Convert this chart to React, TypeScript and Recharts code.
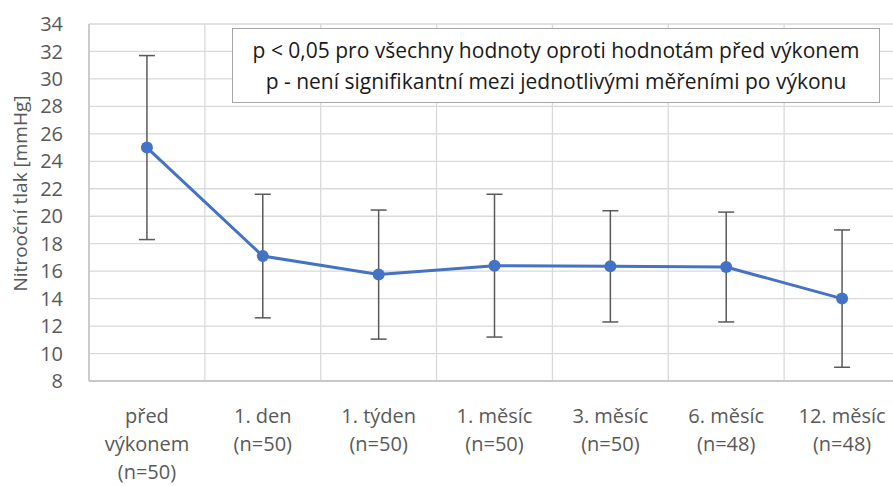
import React from 'react';
import { CartesianGrid, ErrorBar, Line, LineChart, XAxis, YAxis } from 'recharts';

const categories = ['před výkonem', '1. den', '1. týden', '1. měsíc', '3. měsíc', '6. měsíc', '12. měsíc'];
const sampleSizes = [50, 50, 50, 50, 50, 48, 48];
const means = [25.0, 17.1, 15.75, 16.4, 16.35, 16.3, 14.0];
const sds = [6.7, 4.5, 4.7, 5.2, 4.05, 4.0, 5.0];
const yTicks = [8, 10, 12, 14, 16, 18, 20, 22, 24, 26, 28, 30, 32, 34];
const noteLines = [
  'p < 0,05 pro všechny hodnoty oproti hodnotám před výkonem',
  'p - není signifikantní mezi jednotlivými měřeními po výkonu',
];

const data = categories.map((c, i) => ({ name: c, n: sampleSizes[i], mean: means[i], sd: sds[i] }));

const FONT = '"Open Sans", sans-serif';
const GREY = '#595959';

function CategoryTick(props: any) {
  const { x, y, payload } = props;
  const item = data.find((d) => d.name === payload.value)!;
  const lines = item.name === 'před výkonem' ? ['před', 'výkonem', `(n=${item.n})`] : [item.name, `(n=${item.n})`];
  return (
    <text x={x} y={y + 40} textAnchor="middle" fill={GREY} fontSize={20} fontFamily={FONT}>
      {lines.map((l, i) => (
        <tspan key={i} x={x} dy={i === 0 ? 0 : 28}>
          {l}
        </tspan>
      ))}
    </text>
  );
}

function YTitle(props: any) {
  const { viewBox } = props;
  const cy = viewBox.y + viewBox.height / 2 - 9;
  return (
    <text
      x={20}
      y={cy}
      transform={`rotate(-90, 20, ${cy})`}
      textAnchor="middle"
      dominantBaseline="central"
      fill={GREY}
      fontSize={19}
      fontFamily={FONT}
    >
      Nitrooční tlak [mmHg]
    </text>
  );
}

export default function App() {
  return (
    <div style={{ position: 'absolute', left: 0, top: 0, width: 893, height: 486, overflow: 'hidden', background: '#fff' }}>
      <LineChart width={905} height={486} data={data} margin={{ top: 24, right: 5, bottom: 0, left: 0 }}>
        <CartesianGrid
          stroke="#d9d9d9"
          strokeWidth={1.3}
          verticalCoordinatesGenerator={({ offset }: any) =>
            Array.from({ length: categories.length + 1 }, (_, i) => offset.left + (i * offset.width) / categories.length)
          }
        />
        <XAxis
          dataKey="name"
          scale="band"
          interval={0}
          height={105}
          axisLine={{ stroke: '#bfbfbf', strokeWidth: 1.3 }}
          tickLine={false}
          tickSize={0}
          tick={<CategoryTick />}
        />
        <YAxis
          domain={[8, 34]}
          ticks={yTicks}
          interval={0}
          width={89}
          axisLine={{ stroke: '#bfbfbf', strokeWidth: 1.3 }}
          tickLine={false}
          tickMargin={20}
          tick={{ fill: GREY, fontSize: 20, fontFamily: FONT }}
          label={<YTitle />}
        />
        <Line
          type="linear"
          dataKey="mean"
          stroke="#4472C4"
          strokeWidth={3}
          dot={{ r: 6, fill: '#4472C4', stroke: 'none' }}
          activeDot={false}
          isAnimationActive={false}
        >
          <ErrorBar dataKey="sd" stroke={GREY} strokeWidth={1.5} width={8} isAnimationActive={false} />
        </Line>
      </LineChart>
      <div
        style={{
          position: 'absolute',
          left: 232,
          top: 28,
          width: 648,
          height: 75,
          border: '1px solid #a6a6a6',
          background: '#fff',
          boxSizing: 'border-box',
          display: 'flex',
          flexDirection: 'column',
          justifyContent: 'center',
          alignItems: 'center',
          fontFamily: FONT,
          fontSize: 21,
          lineHeight: '31px',
          color: '#1a1a1a',
          whiteSpace: 'nowrap',
        }}
      >
        {noteLines.map((l) => (
          <div key={l}>{l}</div>
        ))}
      </div>
    </div>
  );
}
